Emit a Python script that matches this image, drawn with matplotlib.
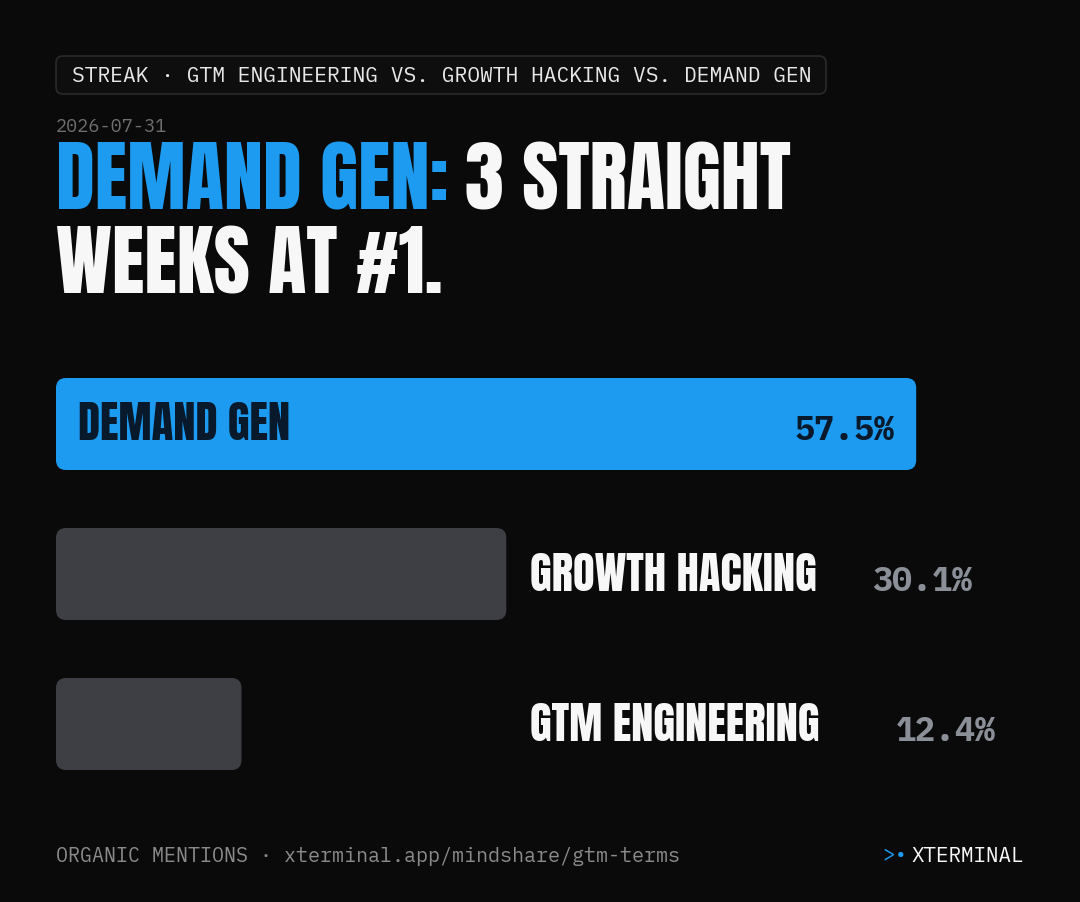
import matplotlib.pyplot as plt
from matplotlib.patches import FancyBboxPatch

# data
terms = ["DEMAND GEN", "GROWTH HACKING", "GTM ENGINEERING"]
shares = [57.5, 30.1, 12.4]
pct_labels = ["57.5%", "30.1%", "12.4%"]

badge = "STREAK · GTM ENGINEERING VS. GROWTH HACKING VS. DEMAND GEN"
date = "2026-07-31"
title_hl = "DEMAND GEN:"
title_rest = "3 STRAIGHT"
title_l2 = "WEEKS AT #1."
source = "ORGANIC MENTIONS · xterminal.app/mindshare/gtm-terms"
brand = "XTERMINAL"

BG = "#0a0a0a"
BLUE = "#1d9bf0"
GREY_BAR = "#3e3f45"
WHITE = "#f7f7f7"
PCT_GREY = "#8b8f98"
NAVY = "#08192b"

COND = ["Anton", "DejaVu Sans"]
MONO = ["IBM Plex Mono", "DejaVu Sans Mono"]

W, H = 1080, 902
fig = plt.figure(figsize=(W / 100, H / 100), dpi=100, facecolor=BG)

# page layer in pixel units
bg = fig.add_axes([0, 0, 1, 1])
bg.set_xlim(0, W)
bg.set_ylim(H, 0)
bg.axis("off")
bg.set_facecolor(BG)

# badge
bg.add_patch(FancyBboxPatch((56, 56), 770, 38, boxstyle="round,pad=0,rounding_size=7",
                            fc="#0e0e0e", ec="#2a2a2a", lw=1.2))
bg.text(72, 76, badge, family=MONO, fontsize=15.3, color="#e8e8e8", va="center", ha="left")

# date + title
bg.text(56, 127, date, family=MONO, fontsize=13.3, color="#707070", va="center", ha="left")
t1 = bg.text(56, 210, title_hl, family=COND, fontsize=56.5, color=BLUE,
             va="baseline", ha="left")
bg.annotate(title_rest, xy=(1, 0), xycoords=t1, xytext=(16, 0), textcoords="offset pixels",
            family=COND, fontsize=56.5, color=WHITE, va="bottom", ha="left")
bg.text(56, 293, title_l2, family=COND, fontsize=56.5, color=WHITE,
        va="baseline", ha="left")

# footer
bg.text(56, 856, source, family=MONO, fontsize=14.4, color="#8a8a8a", va="center", ha="left")
tb = bg.text(1024, 856, brand, family=MONO, fontsize=15, color=WHITE, va="center", ha="right")
bg.annotate(">•", xy=(0, 0.5), xycoords=tb, xytext=(-4, 0), textcoords="offset pixels",
            family=MONO, fontsize=15, color=BLUE, va="center", ha="right")

# bars: 1% = ~14.96 px, rows 150 px apart
px_per_pct = 14.96
row_px = 150
bx = fig.add_axes([56 / W, (H - 799) / H, (W - 56) / W, 3 * row_px / H])
bx.set_xlim(0, (W - 56) / px_per_pct)
bx.set_ylim(len(terms) - 0.5, -0.5)
bx.axis("off")
bx.patch.set_alpha(0)

bar_h = 92 / row_px
rnd = 10 / px_per_pct
asp = px_per_pct / row_px
for i, (name, v, lab) in enumerate(zip(terms, shares, pct_labels)):
    col = BLUE if i == 0 else GREY_BAR
    bx.add_patch(FancyBboxPatch((0, i - bar_h / 2), v, bar_h,
                                boxstyle=f"round,pad=0,rounding_size={rnd}",
                                mutation_aspect=asp, fc=col, ec="none"))
    if i == 0:
        bx.annotate(name, xy=(0, i), xytext=(22, -16), textcoords="offset pixels",
                    family=COND, fontsize=32, color=NAVY,
                    va="baseline", ha="left")
        bx.annotate(lab, xy=(v, i), xytext=(-22, -16), textcoords="offset pixels",
                    family=MONO, weight="bold", fontsize=24, color=NAVY,
                    va="baseline", ha="right")
    else:
        x_lab = max(shares[1:])
        bx.annotate(name, xy=(x_lab, i), xytext=(24, -17), textcoords="offset pixels",
                    family=COND, fontsize=32, color=WHITE,
                    va="baseline", ha="left")
        bx.annotate(lab, xy=(x_lab, i), xytext=(366 if i == 1 else 390, -17),
                    textcoords="offset pixels",
                    family=MONO, weight="bold", fontsize=24, color=PCT_GREY,
                    va="baseline", ha="left")

fig.savefig("out.png", dpi=100, facecolor=BG)
